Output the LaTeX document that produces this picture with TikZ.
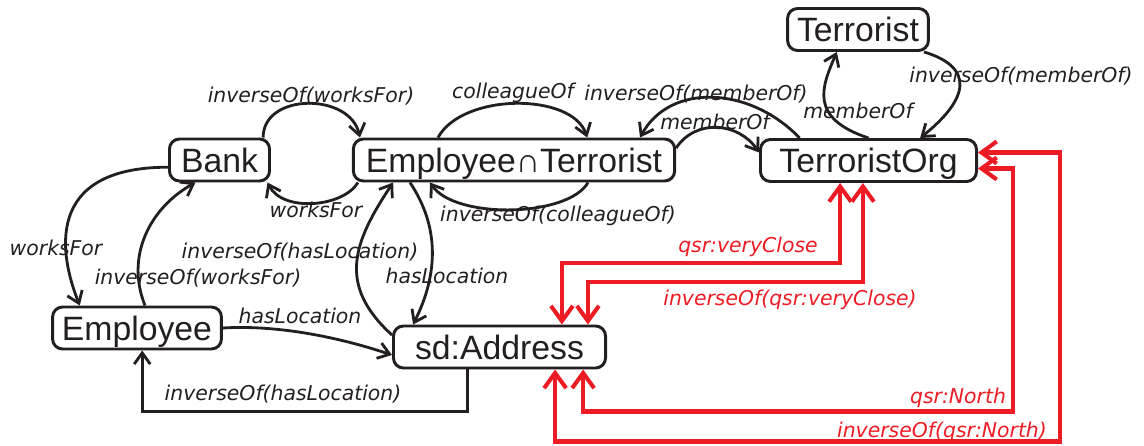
\documentclass[tikz,border=0pt]{standalone}
\usepackage{fontspec}
\setmainfont{Liberation Sans}
\setsansfont{DejaVu Sans}
\definecolor{inkc}{HTML}{231F20}
\definecolor{qsrc}{HTML}{ED1C24}
\usetikzlibrary{arrows.meta}
\tikzset{
  >={Straight Barb[length=2.8mm,width=4mm]},
  cls/.style={draw=inkc,line width=2.1pt,rounded corners=2.5mm,fill=white,minimum height=1.05cm,inner sep=0pt,text height=6.1mm,text depth=0pt,text=inkc,font=\fontsize{24}{28}\selectfont},
  rel/.style={->,line width=2pt,draw=inkc},
  qsr/.style={{Straight Barb[length=3.8mm,width=5.5mm]}-{Straight Barb[length=3.8mm,width=5.5mm]},line width=2.9pt,draw=qsrc},
  lbl/.style={font=\sffamily\itshape\fontsize{14.5}{17}\selectfont,text=inkc,inner sep=0pt},
  qlbl/.style={lbl,text=qsrc},
}
\begin{document}
\begin{tikzpicture}[x=0.025cm,y=0.025cm]
  \useasboundingbox (0,0) rectangle (1144,-446);
  % classes
  \node[cls,minimum width=2.5cm] (bank) at (219.5,-160) {Bank};
  \node[cls,minimum width=8.03cm] (et) at (514,-160) {Employee∩Terrorist};
  \node[cls,minimum width=5.4cm] (torg) at (868.5,-160.5) {TerroristOrg};
  \node[cls,minimum width=3.52cm] (terr) at (858,-29.5) {Terrorist};
  \node[cls,minimum width=4.22cm] (emp) at (137,-328) {Employee};
  \node[cls,minimum width=5.3cm] (addr) at (499.5,-347) {sd:Address};
  % object properties
  \draw[rel] ([yshift=-0.18cm]bank.west) .. controls +(-125,0) and +(-20,50) .. ([xshift=-1.43cm]emp.north);
  \draw[rel] ([xshift=0.2cm]emp.north) .. controls +(-20,50) and +(-45,-25) .. ([xshift=-0.6cm]bank.south);
  \draw[rel] ([xshift=1.09cm]bank.north) .. controls +(0,45) and +(-10,45) .. ([xshift=-3.85cm]et.north);
  \draw[rel] ([xshift=-3.9cm]et.south) .. controls +(-15,-25) and +(15,-30) .. ([xshift=1.2cm]bank.south);
  \draw[rel] ([xshift=-1.9cm]et.north) .. controls +(25,45) and +(-15,45) .. ([xshift=1.83cm]et.north);
  \draw[rel] ([xshift=1.85cm]et.south) .. controls +(-20,-35) and +(25,-37) .. ([xshift=-2.1cm]et.south);
  \draw[rel] ([yshift=0.3cm]et.east) .. controls +(20,30) and +(-20,30) .. ([yshift=0.2cm]torg.west);
  \draw[rel] ([xshift=-1.72cm]torg.north) .. controls +(-50,52) and +(30,55) .. ([xshift=3.15cm]et.north);
  \draw[rel] (torg.north) .. controls +(-60,20) and +(-15,-35) .. ([xshift=-0.53cm]terr.south);
  \draw[rel] ([xshift=1.65cm]terr.south) .. controls +(50,-15) and +(50,40) .. ([xshift=1.29cm]torg.north);
  \draw[rel] (emp.east) .. controls +(50,3) and +(-60,20) .. ([yshift=-0.2cm]addr.west);
  \draw[rel] ([xshift=-0.81cm]addr.south) -- ++(0,-42) -| ([xshift=0.13cm]emp.south);
  \draw[rel] ([yshift=0.3cm]addr.west) .. controls +(-55,50) and +(-40,-60) .. ([xshift=-3.02cm]et.south);
  \draw[rel] ([xshift=-2.6cm]et.south) .. controls +(30,-45) and +(25,50) .. ([xshift=-2.16cm]addr.north);
  % spatial relations
  \draw[qsr] ([xshift=-0.71cm]torg.south) -- ++(0,-80) -| ([xshift=1.56cm]addr.north);
  \draw[qsr] ([xshift=-0.14cm]torg.south) -- ++(0,-99) -| ([xshift=2.21cm]addr.north);
  \draw[qsr] ([xshift=2.09cm]addr.south) -- ++(0,-42) -| ([xshift=0.875cm,yshift=-0.2cm]torg.east) -- ([yshift=-0.2cm]torg.east);
  \draw[qsr] ([xshift=1.39cm]addr.south) -- ++(0,-72) -| ([xshift=2.05cm,yshift=0.2cm]torg.east) -- ([yshift=0.2cm]torg.east);
  % labels
  \node[lbl] (l1) at (56,-248) {worksFor};
  \node[lbl] (l2) at (198,-278) {inverseOf(worksFor)};
  \node[lbl] (l3) at (311,-96) {inverseOf(worksFor)};
  \node[lbl] (l4) at (316,-210) {worksFor};
  \node[lbl] (l5) at (513,-93) {colleagueOf};
  \node[lbl] (l6) at (558,-216) {inverseOf(colleagueOf)};
  \node[lbl] (l7) at (715,-122) {memberOf};
  \node[lbl] (l8) at (696,-94) {inverseOf(memberOf)};
  \node[lbl] (l9) at (858,-111) {memberOf};
  \node[lbl] (l10) at (1021,-76) {inverseOf(memberOf)};
  \node[lbl] (l11) at (300,-316) {hasLocation};
  \node[lbl] (l12) at (283,-394) {inverseOf(hasLocation)};
  \node[lbl] (l13) at (300,-252) {inverseOf(hasLocation)};
  \node[lbl] (l14) at (447,-276) {hasLocation};
  \node[qlbl] (q1) at (748,-247) {qsr:veryClose};
  \node[qlbl] (q2) at (790,-300) {inverseOf(qsr:veryClose)};
  \node[qlbl] (q3) at (958,-398) {qsr:North};
  \node[qlbl] (q4) at (942,-432) {inverseOf(qsr:North)};
\end{tikzpicture}
\end{document}
